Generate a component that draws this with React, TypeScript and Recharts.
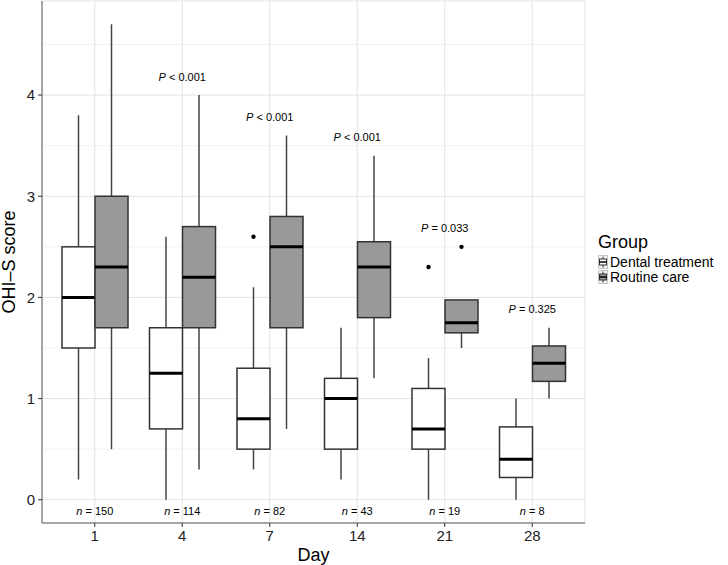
import React from 'react';
import { ComposedChart, Bar, Scatter, XAxis, YAxis, CartesianGrid, Legend } from 'recharts';

const days = ['1', '4', '7', '14', '21', '28'];

// Dental treatment group
const dentalMin = [0.2, 0, 0.3, 0.2, 0, 0];
const dentalQ1 = [1.5, 0.7, 0.5, 0.5, 0.5, 0.22];
const dentalMedian = [2.0, 1.25, 0.8, 1.0, 0.7, 0.4];
const dentalQ3 = [2.5, 1.7, 1.3, 1.2, 1.1, 0.72];
const dentalMax = [3.8, 2.6, 2.1, 1.7, 1.4, 1.0];
const dentalOutliers: number[][] = [[], [], [2.6], [], [2.3], []];

// Routine care group
const routineMin = [0.5, 0.3, 0.7, 1.2, 1.5, 1.0];
const routineQ1 = [1.7, 1.7, 1.7, 1.8, 1.65, 1.17];
const routineMedian = [2.3, 2.2, 2.5, 2.3, 1.75, 1.35];
const routineQ3 = [3.0, 2.7, 2.8, 2.55, 1.975, 1.52];
const routineMax = [4.7, 4.0, 3.6, 3.4, 1.975, 1.7];
const routineOutliers: number[][] = [[], [], [], [], [2.5], []];

const sampleSizes = [150, 114, 82, 43, 19, 8];
const pValues = [null, '< 0.001', '< 0.001', '< 0.001', '= 0.033', '= 0.325'];

const yTicks = [0, 1, 2, 3, 4];
const yMinorTicks = [0.5, 1.5, 2.5, 3.5, 4.5];

const FONT = '"Liberation Sans", Arial, Helvetica, sans-serif';
const N_LABEL_Y = -0.11;

const rows = days.map((day, i) => {
  const dental = { min: dentalMin[i], q1: dentalQ1[i], median: dentalMedian[i], q3: dentalQ3[i], max: dentalMax[i], outliers: dentalOutliers[i] };
  const routine = { min: routineMin[i], q1: routineQ1[i], median: routineMedian[i], q3: routineQ3[i], max: routineMax[i], outliers: routineOutliers[i] };
  const top = Math.max(dental.max, routine.max, ...dental.outliers, ...routine.outliers);
  return {
    day,
    dental,
    routine,
    dentalRange: [dental.min, dental.max],
    routineRange: [routine.min, routine.max],
    n: sampleSizes[i],
    nY: N_LABEL_Y,
    pValue: pValues[i],
    pY: pValues[i] ? top + 0.18 : null,
  };
});

const makeBoxShape = (group: 'dental' | 'routine', fill: string) => (props: any) => {
  const { x, y, width, height, payload } = props;
  const s = payload[group];
  const toPx = (v: number) => y + ((s.max - v) / (s.max - s.min)) * height;
  const cx = x + width / 2;
  return (
    <g>
      <line x1={cx} x2={cx} y1={toPx(s.max)} y2={toPx(s.q3)} stroke="#444" strokeWidth={1.5} />
      <line x1={cx} x2={cx} y1={toPx(s.q1)} y2={toPx(s.min)} stroke="#444" strokeWidth={1.5} />
      <rect x={x} y={toPx(s.q3)} width={width} height={toPx(s.q1) - toPx(s.q3)} fill={fill} stroke="#333" strokeWidth={1.5} />
      <line x1={x} x2={x + width} y1={toPx(s.median)} y2={toPx(s.median)} stroke="#000" strokeWidth={3} />
      {s.outliers.map((o: number, k: number) => (
        <circle key={k} cx={cx} cy={toPx(o)} r={2.2} fill="#000" />
      ))}
    </g>
  );
};

const PLabel = (props: any) => {
  const { cx, cy, payload } = props;
  if (!payload.pValue) return <g />;
  return (
    <text x={cx} y={cy} dy="0.35em" textAnchor="middle" fontSize={11} fontFamily={FONT} fill="#000">
      <tspan fontStyle="italic">P</tspan> {payload.pValue}
    </text>
  );
};

const NLabel = (props: any) => {
  const { cx, cy, payload } = props;
  return (
    <text x={cx} y={cy} dy="0.35em" textAnchor="middle" fontSize={11} fontFamily={FONT} fill="#000">
      <tspan fontStyle="italic">n</tspan> = {payload.n}
    </text>
  );
};

const KeyIcon = ({ fill }: { fill: string }) => (
  <svg width={10} height={14} style={{ display: 'block', flexShrink: 0 }}>
    <rect x={0.5} y={0.5} width={9} height={13} fill="#f2f2f2" stroke="#c8c8c8" />
    <line x1={5} x2={5} y1={1.5} y2={12.5} stroke="#333" />
    <rect x={1.5} y={4} width={7} height={6} fill={fill} stroke="#333" />
    <line x1={1.5} x2={8.5} y1={7} y2={7} stroke="#000" strokeWidth={1.5} />
  </svg>
);

const GroupLegend = () => (
  <div style={{ paddingLeft: 13, fontFamily: FONT, color: '#000' }}>
    <div style={{ fontSize: 18, lineHeight: '20px', marginBottom: 3 }}>Group</div>
    {[
      { name: 'Dental treatment', fill: '#fff' },
      { name: 'Routine care', fill: '#999' },
    ].map((g) => (
      <div key={g.name} style={{ display: 'flex', alignItems: 'center', height: 14.5 }}>
        <KeyIcon fill={g.fill} />
        <span style={{ fontSize: 14, lineHeight: '14.5px', marginLeft: 2, whiteSpace: 'nowrap' }}>{g.name}</span>
      </div>
    ))}
  </div>
);

export default function App() {
  return (
    <div>
      <style>{'body{margin:0}'}</style>
      <ComposedChart
        width={728}
        height={565}
        data={rows}
        margin={{ top: 1, right: 8, bottom: 0, left: 0 }}
        barGap={0}
        style={{ fontFamily: FONT }}
      >
        <CartesianGrid horizontalValues={yMinorTicks} vertical={false} stroke="#f2f2f2" strokeWidth={1} />
        <CartesianGrid stroke="#e3e3e3" strokeWidth={1} />
        <XAxis
          dataKey="day"
          type="category"
          interval={0}
          padding={{ left: 9, right: 9 }}
          height={42}
          tickSize={4}
          tickMargin={3}
          axisLine={{ stroke: '#8c8c8c', strokeWidth: 1.5 }}
          tickLine={{ stroke: '#333' }}
          tick={{ fill: '#222', fontSize: 15 }}
          label={{ value: 'Day', position: 'insideBottom', offset: 4, fontSize: 18, fill: '#000' }}
        />
        <XAxis
          xAxisId="top"
          dataKey="day"
          orientation="top"
          height={0}
          tick={false}
          tickLine={false}
          axisLine={{ stroke: '#8c8c8c', strokeWidth: 1.5 }}
        />
        <YAxis
          type="number"
          domain={[-0.23, 4.93]}
          allowDataOverflow
          ticks={yTicks}
          width={42}
          tickSize={4}
          tickMargin={3}
          axisLine={{ stroke: '#8c8c8c', strokeWidth: 1.5 }}
          tickLine={{ stroke: '#333' }}
          tick={{ fill: '#222', fontSize: 15 }}
          label={{ value: 'OHI\u2013S score', angle: -90, position: 'insideLeft', offset: 9, fontSize: 18, fill: '#000', style: { textAnchor: 'middle' } }}
        />
        <YAxis
          yAxisId="right"
          orientation="right"
          domain={[0, 1]}
          width={0}
          tick={false}
          tickLine={false}
          axisLine={{ stroke: '#8c8c8c', strokeWidth: 1.5 }}
        />
        <Legend
          layout="vertical"
          align="right"
          verticalAlign="top"
          width={135}
          wrapperStyle={{ top: 232 }}
          content={() => <GroupLegend />}
        />
        <Bar dataKey="dentalRange" barSize={33} shape={makeBoxShape('dental', '#fff')} isAnimationActive={false} />
        <Bar dataKey="routineRange" barSize={33} shape={makeBoxShape('routine', '#999')} isAnimationActive={false} />
        <Scatter dataKey="pY" shape={PLabel} isAnimationActive={false} legendType="none" />
        <Scatter dataKey="nY" shape={NLabel} isAnimationActive={false} legendType="none" />
      </ComposedChart>
    </div>
  );
}
